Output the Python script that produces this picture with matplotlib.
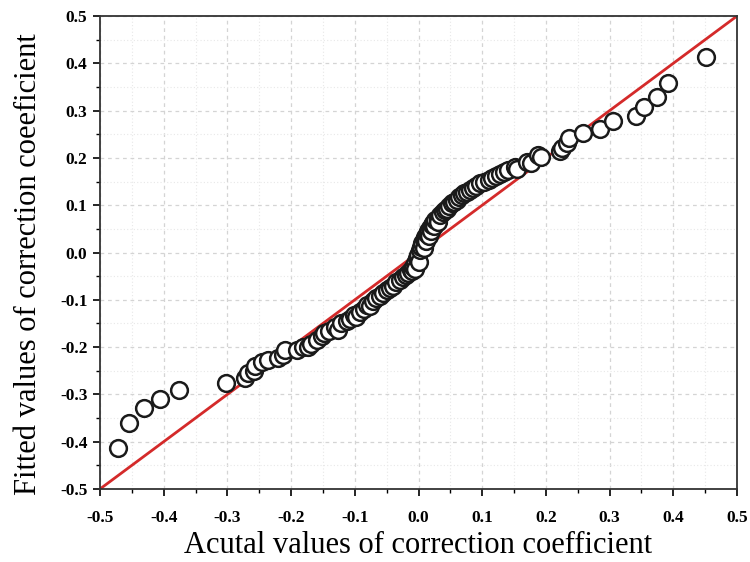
import numpy as np
import matplotlib.pyplot as plt
from matplotlib.ticker import MultipleLocator

actual = [-0.471, -0.454, -0.431, -0.406, -0.376, -0.302, -0.272, -0.267, -0.259, -0.257,
          -0.245, -0.236, -0.220, -0.212, -0.210, -0.191, -0.182, -0.173, -0.168, -0.160,
          -0.152, -0.149, -0.140, -0.131, -0.126, -0.122, -0.113, -0.108, -0.102, -0.098,
          -0.092, -0.086, -0.081, -0.076, -0.071, -0.066, -0.060, -0.055, -0.050, -0.045,
          -0.040, -0.035, -0.029, -0.024, -0.020, -0.016, -0.012, -0.010, -0.008, -0.005,
          -0.005, -0.003, -0.001, 0.000, 0.002, 0.004, 0.006, 0.008, 0.008, 0.010,
          0.012, 0.013, 0.015, 0.016, 0.018, 0.020, 0.021, 0.023, 0.025, 0.026,
          0.030, 0.030, 0.034, 0.038, 0.041, 0.044, 0.048, 0.052, 0.055, 0.060,
          0.064, 0.068, 0.072, 0.076, 0.081, 0.086, 0.090, 0.097, 0.103, 0.110,
          0.115, 0.121, 0.128, 0.134, 0.140, 0.151, 0.155, 0.171, 0.177, 0.188,
          0.193, 0.222, 0.225, 0.233, 0.237, 0.259, 0.285, 0.305, 0.341, 0.354,
          0.375, 0.391, 0.451]
fitted = [-0.414, -0.360, -0.329, -0.310, -0.291, -0.276, -0.265, -0.255, -0.250, -0.240,
          -0.232, -0.227, -0.222, -0.216, -0.206, -0.207, -0.200, -0.200, -0.193, -0.185,
          -0.176, -0.171, -0.165, -0.158, -0.163, -0.150, -0.145, -0.140, -0.132, -0.136,
          -0.125, -0.120, -0.112, -0.114, -0.102, -0.096, -0.092, -0.085, -0.079, -0.074,
          -0.070, -0.063, -0.058, -0.052, -0.047, -0.044, -0.037, -0.040, -0.030, -0.022,
          -0.035, -0.012, -0.005, -0.020, 0.005, 0.012, 0.020, 0.027, 0.010, 0.033,
          0.025, 0.040, 0.046, 0.035, 0.052, 0.045, 0.058, 0.063, 0.055, 0.068,
          0.074, 0.065, 0.079, 0.086, 0.090, 0.093, 0.098, 0.104, 0.107, 0.112,
          0.117, 0.122, 0.126, 0.128, 0.132, 0.137, 0.140, 0.146, 0.150, 0.153,
          0.157, 0.161, 0.166, 0.170, 0.174, 0.181, 0.177, 0.192, 0.190, 0.206,
          0.202, 0.214, 0.220, 0.231, 0.243, 0.253, 0.262, 0.277, 0.288, 0.308,
          0.329, 0.358, 0.413]

plt.rcParams['font.family'] = ['Liberation Serif', 'DejaVu Serif']

fig = plt.figure(figsize=(7.5, 5.62), dpi=100)
ax = fig.add_axes([0.1333, 0.1299, 0.8494, 0.8416])

ax.plot([-0.5, 0.5], [-0.5, 0.5], color='#d42a2a', lw=2, zorder=2)
ax.scatter(actual, fitted, s=145, facecolors='white', edgecolors='#1a1a1a',
           linewidths=1.8, zorder=3)

ax.set_xlim(-0.5, 0.5)
ax.set_ylim(-0.5, 0.5)
ax.xaxis.set_major_locator(MultipleLocator(0.1))
ax.yaxis.set_major_locator(MultipleLocator(0.1))
ax.xaxis.set_minor_locator(MultipleLocator(0.05))
ax.yaxis.set_minor_locator(MultipleLocator(0.05))
ax.xaxis.set_major_formatter(plt.FormatStrFormatter('%.1f'))
ax.yaxis.set_major_formatter(plt.FormatStrFormatter('%.1f'))

ax.grid(which='major', color='#d4d4d4', ls=(0, (3, 3)), lw=0.9)
ax.grid(which='minor', color='#e8e8e8', ls=(0, (1, 2)), lw=0.8)
ax.set_axisbelow(True)

ax.tick_params(which='major', direction='out', length=5, width=1.2, labelsize=12.5, pad=4)
ax.tick_params(axis='x', which='major', pad=10)
ax.tick_params(which='minor', direction='out', length=3, width=1.0)
for lab in ax.get_xticklabels() + ax.get_yticklabels():
    lab.set_fontweight('bold')
for sp in ax.spines.values():
    sp.set_linewidth(1.3)
    sp.set_color('#333333')

ax.set_xlabel('Acutal values of correction coefficient', fontsize=22, labelpad=4)
ax.set_ylabel('Fitted values of correction coeeficient', fontsize=22, labelpad=12)
ax.yaxis.label.set_y(0.475)

fig.savefig('out.png', dpi=100)
